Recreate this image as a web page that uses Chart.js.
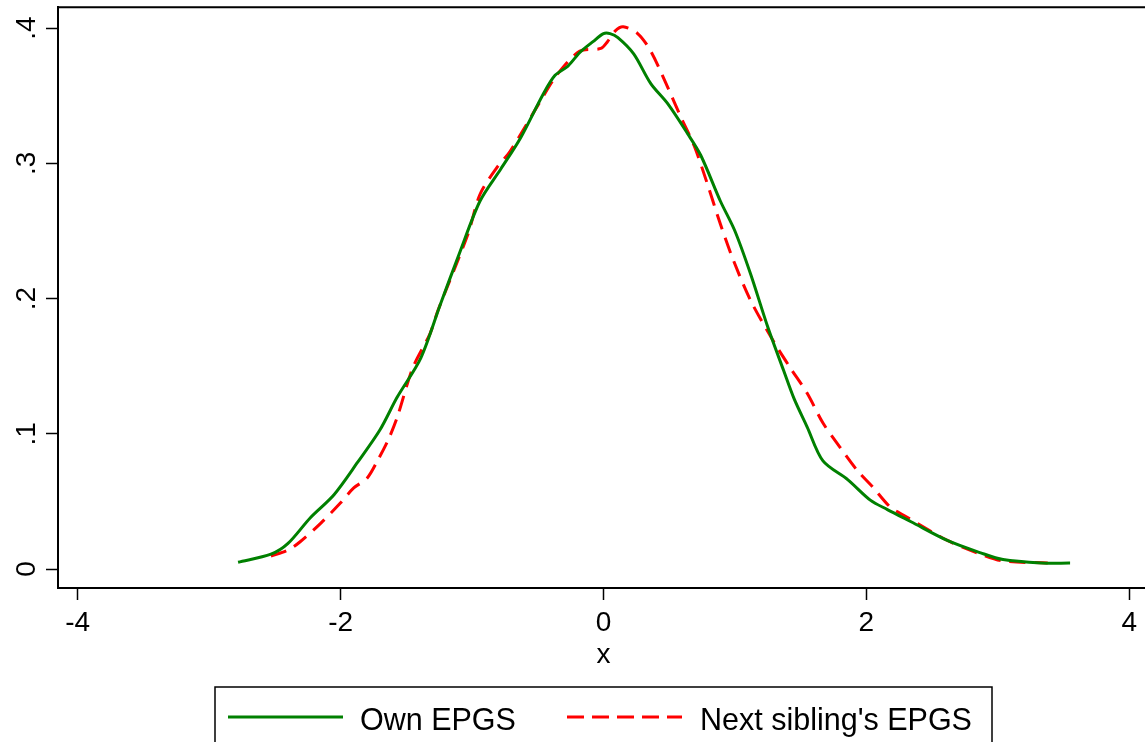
<!DOCTYPE html>
<html>
<head>
<meta charset="utf-8">
<script src="https://cdn.jsdelivr.net/npm/chart.js@4"></script>
<style>
  html, body { margin: 0; padding: 0; background: #fff; }
  #wrap { width: 1145px; height: 742px; position: relative; }
</style>
</head>
<body>
<div id="wrap"><canvas id="chart1"></canvas></div>
<script>
// kernel density, own EPGS
const ownX = [-2.78, -2.53, -2.40, -2.23, -2.05, -1.87, -1.70, -1.57, -1.39, -1.24, -1.09, -0.94, -0.78, -0.63, -0.46, -0.37, -0.27, -0.18, -0.08, 0.00, 0.05, 0.11, 0.23, 0.36, 0.49, 0.64, 0.74, 0.89, 1.00, 1.12, 1.25, 1.37, 1.45, 1.55, 1.67, 1.86, 2.03, 2.16, 2.34, 2.62, 2.87, 3.04, 3.33, 3.55];
const ownY = [0.005, 0.011, 0.019, 0.038, 0.055, 0.079, 0.103, 0.127, 0.156, 0.196, 0.235, 0.272, 0.296, 0.319, 0.351, 0.365, 0.372, 0.382, 0.390, 0.396, 0.396, 0.393, 0.381, 0.359, 0.344, 0.322, 0.306, 0.272, 0.250, 0.218, 0.179, 0.147, 0.126, 0.105, 0.080, 0.066, 0.051, 0.044, 0.035, 0.021, 0.012, 0.007, 0.0045, 0.0044];

// kernel density, next sibling's EPGS
const sibX = [-2.53, -2.40, -2.31, -2.15, -2.00, -1.90, -1.80, -1.72, -1.64, -1.57, -1.45, -1.32, -1.26, -1.03, -0.94, -0.81, -0.71, -0.48, -0.35, -0.18, -0.02, 0.03, 0.09, 0.15, 0.26, 0.36, 0.49, 0.59, 0.69, 0.79, 0.89, 0.99, 1.12, 1.29, 1.42, 1.55, 1.67, 1.80, 1.93, 2.05, 2.18, 2.28, 2.62, 2.87, 3.04, 3.38];
const sibY = [0.0096, 0.014, 0.020, 0.034, 0.049, 0.060, 0.067, 0.080, 0.095, 0.112, 0.149, 0.174, 0.191, 0.248, 0.277, 0.297, 0.309, 0.346, 0.366, 0.383, 0.385, 0.390, 0.398, 0.401, 0.396, 0.383, 0.356, 0.334, 0.313, 0.285, 0.255, 0.228, 0.1985, 0.169, 0.149, 0.130, 0.108, 0.090, 0.073, 0.0605, 0.046, 0.040, 0.021, 0.011, 0.006, 0.0045];

const xTicks = [-4, -2, 0, 2, 4];
const yTicks = [0, 0.1, 0.2, 0.3, 0.4];
const yTickLabels = ['0', '.1', '.2', '.3', '.4'];
const seriesNames = ['Own EPGS', "Next sibling's EPGS"];

const FONT = '"Liberation Sans", Arial, sans-serif';
const GREEN = 'rgb(0,128,0)';
const RED = 'rgb(255,0,0)';

function pts(xs, ys) {
  return xs.map((x, i) => ({ x: x, y: ys[i] }));
}

// frame, rotated y labels, x title and the boxed legend
const stataBits = {
  id: 'stataBits',
  afterDraw(chart) {
    const c = chart.ctx;
    const a = chart.chartArea;
    const ys = chart.scales.y;
    c.save();
    c.strokeStyle = '#000';
    c.lineWidth = 2;
    c.beginPath();
    c.moveTo(a.left, a.bottom);
    c.lineTo(a.left, a.top);
    c.lineTo(a.right + 5, a.top);
    c.stroke();

    c.fillStyle = '#000';
    c.font = '28px ' + FONT;
    c.textAlign = 'center';
    c.textBaseline = 'alphabetic';
    yTicks.forEach((v, i) => {
      c.save();
      c.translate(35, ys.getPixelForValue(v));
      c.rotate(-Math.PI / 2);
      c.fillText(yTickLabels[i], 0, 0);
      c.restore();
    });

    c.fillText('x', chart.scales.x.getPixelForValue(0), 663);

    // legend
    c.lineWidth = 1.5;
    c.strokeRect(215, 687, 777, 80);
    c.lineWidth = 3;
    c.strokeStyle = GREEN;
    c.beginPath();
    c.moveTo(228, 717);
    c.lineTo(343, 717);
    c.stroke();
    c.strokeStyle = RED;
    c.setLineDash([17, 8]);
    c.beginPath();
    c.moveTo(567, 717);
    c.lineTo(682, 717);
    c.stroke();
    c.setLineDash([]);
    c.textAlign = 'left';
    c.font = '30.5px ' + FONT;
    c.fillText(seriesNames[0], 360, 730);
    c.fillText(seriesNames[1], 700, 730);
    c.restore();
  }
};

const ctx1 = document.getElementById('chart1').getContext('2d');

new Chart(ctx1, {
  type: 'scatter',
  data: {
    datasets: [{
      label: seriesNames[0],
      data: pts(ownX, ownY),
      showLine: true,
      borderColor: GREEN,
      borderWidth: 3,
      pointRadius: 0,
      tension: 0.3
    }, {
      label: seriesNames[1],
      data: pts(sibX, sibY),
      showLine: true,
      borderColor: RED,
      borderWidth: 3,
      borderDash: [16, 9],
      pointRadius: 0,
      tension: 0.3
    }]
  },
  options: {
    responsive: true,
    maintainAspectRatio: false,
    animation: false,
    layout: { padding: { top: 6, left: 0, right: 0, bottom: 0 } },
    plugins: {
      legend: { display: false },
      tooltip: { enabled: false }
    },
    scales: {
      x: {
        type: 'linear',
        min: -4.15,
        max: 4.12,
        afterBuildTicks: (s) => { s.ticks = xTicks.map(v => ({ value: v })); },
        afterFit: (s) => { s.height = 154; },
        grid: { drawOnChartArea: false, color: '#000', tickLength: 12, tickWidth: 1.5 },
        border: { display: true, color: '#000', width: 2 },
        ticks: {
          color: '#000',
          font: { family: FONT, size: 28 },
          padding: 6,
          maxRotation: 0,
          autoSkip: false
        }
      },
      y: {
        type: 'linear',
        min: -0.014,
        max: 0.4155,
        afterBuildTicks: (s) => { s.ticks = yTicks.map(v => ({ value: v })); },
        afterFit: (s) => { s.width = 58; },
        grid: { drawOnChartArea: false, color: '#000', tickLength: 12, tickWidth: 1.5 },
        border: { display: true, color: '#000', width: 2 },
        ticks: { callback: () => '', padding: 0 }
      }
    }
  },
  plugins: [stataBits]
});
</script>
</body>
</html>
